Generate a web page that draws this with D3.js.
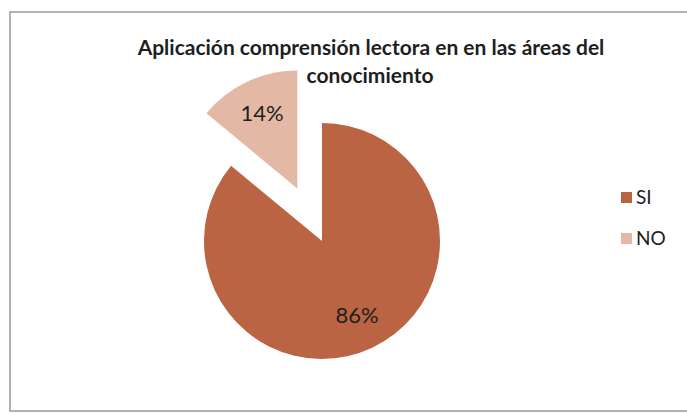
<!DOCTYPE html>
<html>
<head>
<meta charset="utf-8">
<script src="https://cdn.jsdelivr.net/npm/d3@7"></script>
<style>
  html, body { margin: 0; padding: 0; background: #fff; }
  svg { display: block; }
  text { font-family: Lato, "Open Sans", sans-serif; fill: #1e1e1e; }
</style>
</head>
<body>
<svg id="chart" width="687" height="413"></svg>
<script>
const titleLines = ["Aplicación comprensión lectora en en las áreas del", "conocimiento"];
const categories = ["SI", "NO"];
const values = [86, 14];
const valueLabels = ["86%", "14%"];
const colors = ["#bb6443", "#e3b9a5"];
const explode = [0, 58];

const svg = d3.select("#chart");

// outer frame
svg.append("rect")
  .attr("x", 10).attr("y", 12)
  .attr("width", 700).attr("height", 399)
  .attr("fill", "none")
  .attr("stroke", "#9a9a9a")
  .attr("stroke-width", 1.5);

// title
const t1 = svg.append("text")
  .attr("x", 371).attr("y", 55)
  .attr("text-anchor", "middle")
  .attr("font-weight", "bold")
  .attr("font-size", 19)
  .text(titleLines[0]);
const w1 = t1.node().getComputedTextLength();
const fs = 19 * 467 / w1;
t1.attr("font-size", fs);
svg.append("text")
  .attr("x", 370).attr("y", 83)
  .attr("text-anchor", "middle")
  .attr("font-weight", "bold")
  .attr("font-size", fs)
  .text(titleLines[1]);

// pie
const cx = 322, cy = 241, r = 118;
const pie = d3.pie().sort(null).value(d => d)(values);
const arc = d3.arc().innerRadius(0).outerRadius(r);
const labelArc = d3.arc().innerRadius(r * 0.7).outerRadius(r * 0.7);

const g = svg.append("g").attr("transform", `translate(${cx},${cy})`);
const slices = g.selectAll("g.slice").data(pie).join("g")
  .attr("class", "slice")
  .attr("transform", (d, i) => {
    const a = (d.startAngle + d.endAngle) / 2;
    return `translate(${Math.sin(a) * explode[i]},${-Math.cos(a) * explode[i]})`;
  });
slices.append("path")
  .attr("d", arc)
  .attr("fill", (d, i) => colors[i]);
slices.append("text")
  .attr("transform", d => `translate(${labelArc.centroid(d)})`)
  .attr("text-anchor", "middle")
  .attr("dy", "0.35em")
  .attr("font-size", 22)
  .text((d, i) => valueLabels[i]);

// legend
const leg = svg.append("g").attr("transform", "translate(621,192)");
const items = leg.selectAll("g").data(categories).join("g")
  .attr("transform", (d, i) => `translate(0,${i * 41})`);
items.append("rect")
  .attr("width", 11).attr("height", 11)
  .attr("fill", (d, i) => colors[i]);
items.append("text")
  .attr("x", 15).attr("y", 11.5)
  .attr("font-size", 19)
  .text(d => d);
</script>
</body>
</html>
